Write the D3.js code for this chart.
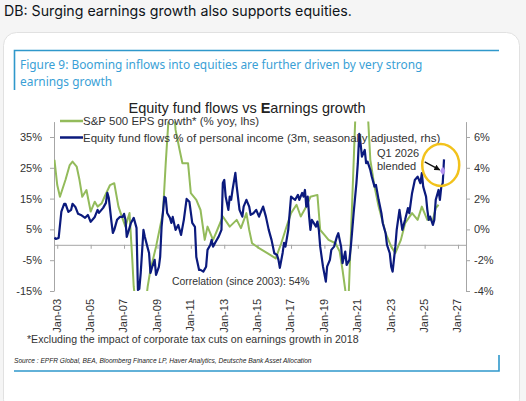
<!DOCTYPE html>
<html>
<head>
<meta charset="utf-8">
<script src="https://cdn.jsdelivr.net/npm/d3@7"></script>
<style>
  body { margin: 0; background: #f5f5f5; }
  svg { display: block; }
  .tick text { font-family: "Liberation Sans", Arial, sans-serif; font-size: 11px; fill: #333; }
</style>
</head>
<body>
<div id="chart"></div>
<script>
// equity fund flows, % of personal income (3m, SA, rhs)
const flowDates = ["2002-11","2002-12","2003-02","2003-04","2003-06","2003-07","2003-09","2003-11","2003-12",
  "2004-02","2004-04","2004-06","2004-09","2004-11","2005-01","2005-04","2005-06","2005-07","2005-10","2005-12",
  "2006-01","2006-02","2006-04","2006-05","2006-06","2006-08","2006-10","2006-12","2007-01","2007-02","2007-03",
  "2007-05","2007-06","2007-08","2007-10","2007-11","2007-12","2008-01","2008-03","2008-04","2008-06","2008-07",
  "2008-08","2008-09","2008-11","2008-12","2009-02","2009-03","2009-04","2009-06","2009-07","2009-08","2009-10",
  "2009-11","2009-12","2010-02","2010-04","2010-06","2010-08","2010-10","2010-12","2011-02","2011-04","2011-05",
  "2011-07","2011-08","2011-10","2011-12","2012-01","2012-03","2012-04","2012-05","2012-07","2012-09","2012-11",
  "2012-12","2013-01","2013-02","2013-04","2013-05","2013-06","2013-07","2013-09","2013-10","2013-12","2014-02",
  "2014-03","2014-05","2014-07","2014-08","2014-10","2014-12","2015-02","2015-03","2015-05","2015-07","2015-09",
  "2015-11","2016-01","2016-03","2016-04","2016-05","2016-07","2016-08","2016-09","2016-11","2017-01","2017-02",
  "2017-04","2017-06","2017-07","2017-09","2017-10","2017-11","2017-12","2018-01","2018-02","2018-03","2018-04",
  "2018-07","2018-08","2018-09","2018-10","2018-12","2019-02","2019-03","2019-05","2019-06","2019-08","2019-10",
  "2019-11","2020-01","2020-02","2020-04","2020-05","2020-07","2020-08","2020-09","2020-10","2020-12","2021-01",
  "2021-02","2021-03","2021-04","2021-06","2021-07","2021-08","2021-10","2021-11","2022-01","2022-02","2022-04",
  "2022-06","2022-07","2022-09","2022-10","2022-12","2023-01","2023-02","2023-03","2023-04","2023-05","2023-07",
  "2023-08","2023-09","2023-11","2024-01","2024-02","2024-04","2024-06","2024-08","2024-10","2024-11","2024-12",
  "2025-02","2025-03","2025-04","2025-05","2025-07","2025-08","2025-09","2025-11","2025-12","2026-01","2026-02",
  "2026-03"];
const flowValues = [-0.53,-0.62,-0.55,1.16,1.66,1.66,1.14,1.27,1.66,
  1.46,1.01,0.94,0.75,0.94,0.49,0.81,1.27,1.07,1.40,1.72,
  2.37,2.05,0.49,-0.23,-0.03,0.62,0.81,0.81,1.01,0.62,-0.49,
  0.10,0.42,0.75,0.10,-3.93,-3.86,-2.82,-0.03,-0.49,-1.20,-1.53,
  -2.82,-2.50,-1.98,-2.95,-2.44,-1.79,0.16,2.11,2.05,1.07,0.75,
  0.42,0.81,-0.03,0.29,-0.36,0.62,1.98,1.79,0.42,0.16,-1.79,
  -2.63,-2.63,-2.74,-2.42,-1.33,-1.01,-0.68,-1.12,-0.79,-0.47,-0.03,
  3.02,3.21,2.13,1.27,2.13,1.92,2.56,3.67,2.78,1.27,0.83,
  1.48,1.92,1.48,0.94,1.05,1.27,0.83,1.05,1.48,0.83,-0.03,
  -0.68,-1.55,-1.66,-1.98,-2.50,-1.53,-0.88,-1.12,-0.03,2.13,2.05,
  1.92,2.24,1.92,2.37,2.13,2.56,1.48,2.13,0.83,-0.03,0.62,
  0.18,0.51,-0.03,-1.12,-2.42,-3.39,-2.42,-1.98,-1.33,-1.12,-0.47,
  -0.25,-1.12,-2.19,-1.44,-2.31,-1.98,-1.12,-0.03,1.05,3.00,4.30,
  6.20,5.60,4.73,5.16,4.30,4.40,3.86,3.43,2.78,2.89,1.92,
  1.05,0.40,-0.25,-1.01,-1.55,-2.42,-2.74,-1.98,-1.12,-0.03,1.27,
  0.62,-0.03,0.62,1.38,1.05,2.35,3.21,3.43,3.00,3.65,2.78,
  2.13,1.27,0.62,0.83,0.29,0.62,1.92,2.56,1.92,2.78,3.00,
  4.55];

// S&P 500 EPS growth, % yoy (lhs)
const epsDates = ["2002-11","2003-01","2003-03","2003-07","2003-10","2003-12","2004-03","2004-05","2004-07","2004-10",
  "2005-01","2005-04","2005-06","2005-09","2005-11","2006-03","2006-06","2006-09","2006-11","2007-02","2007-05",
  "2007-07","2007-08","2008-01","2008-06","2008-08","2008-12","2009-05","2009-07","2009-11","2010-02","2010-05",
  "2010-07","2010-11","2011-01","2011-05","2011-08","2011-11","2012-01","2012-05","2012-08","2012-12","2013-05",
  "2013-10","2014-01","2014-05","2014-07","2014-09","2015-02","2015-08","2016-02","2016-06","2016-09","2017-01",
  "2017-05","2017-08","2017-12","2018-03","2018-08","2018-10","2019-01","2019-04","2019-09","2019-12","2020-02",
  "2020-04","2020-06","2021-03","2021-10","2022-01","2022-04","2022-09","2023-01","2023-04","2023-08","2023-11",
  "2024-04","2024-08","2024-11","2025-03","2025-07","2025-09","2025-11"];
const epsValues = [27.6,19.4,15.6,21.1,25.9,27.0,25.4,21.1,15.6,17.8,
  10.8,14.0,12.4,13.5,15.6,19.4,20.0,12.4,9.7,5.9,10.3,
  -4.9,-13.6,-33,-13.6,-8.1,-0.6,10.3,26.5,55.2,37.3,30.8,
  26.5,26.5,16.8,14.6,11.3,1.6,5.9,1.6,4.8,9.2,5.9,
  8.1,5.4,10.3,4.8,0.5,-1.1,-2.7,-4.4,0.5,4.8,10.3,
  13.0,9.2,12.4,15.6,16.2,4.8,3.2,1.6,0.5,-2.2,-8.1,
  -14.6,-22.0,86.8,27.6,18.9,12.4,3.8,-0.6,-2.7,1.6,7.0,
  10.3,8.1,12.4,8.1,8.1,11.9,13.0];

const blendedDate = "2026-02";
const blendedValue = 24;

const leftTicks = [35, 25, 15, 5, -5, -15];
const rightTicks = [6, 4, 2, 0, -2, -4];
const yearTicks = [2003, 2005, 2007, 2009, 2011, 2013, 2015, 2017, 2019, 2021, 2023, 2025, 2027];

const parseMonth = d3.timeParse("%Y-%m");
const flows = flowDates.map((d, i) => ({ date: parseMonth(d), value: flowValues[i] }));
const eps = epsDates.map((d, i) => ({ date: parseMonth(d), value: epsValues[i] }));

const width = 526, height = 401;
const svg = d3.select("#chart").append("svg")
    .attr("width", width)
    .attr("height", height);

// tweet text + card
svg.append("text")
    .attr("x", 4).attr("y", 16)
    .attr("font-family", "Inter, 'Noto Sans', sans-serif")
    .attr("font-size", 14.2)
    .attr("fill", "#0f1419")
    .text("DB: Surging earnings growth also supports equities.");

svg.append("rect")
    .attr("x", 3.5).attr("y", 32.5)
    .attr("width", 516).attr("height", 380)
    .attr("rx", 13)
    .attr("fill", "#fff")
    .attr("stroke", "#e1e1e1");

const blue = "#2f98cb";
svg.append("path")
    .attr("d", "M14.5,90 V50.5 H499")
    .attr("fill", "none").attr("stroke", blue).attr("stroke-width", 1.6);
svg.append("path")
    .attr("d", "M14,371 H499 V355")
    .attr("fill", "none").attr("stroke", blue).attr("stroke-width", 1.6);

const figTitle = svg.append("text")
    .attr("font-family", "'Noto Sans', sans-serif")
    .attr("font-size", 11.9)
    .attr("fill", "#3a9fd6");
figTitle.append("tspan").attr("x", 20).attr("y", 69)
    .text("Figure 9: Booming inflows into equities are further driven by very strong");
figTitle.append("tspan").attr("x", 20).attr("y", 86)
    .text("earnings growth");

// chart
const x = d3.scaleTime()
    .domain([new Date(2002, 9, 22), new Date(2027, 5, 25)])
    .range([54, 466]);
const yL = d3.scaleLinear().domain([-15, 40]).range([291, 121.6]);
const yR = d3.scaleLinear().domain([-4, 7]).range([291, 121.6]);

const font = "'Liberation Sans', Arial, sans-serif";

const chartTitle = svg.append("text")
    .attr("x", 247).attr("y", 113)
    .attr("text-anchor", "middle")
    .attr("font-family", font)
    .attr("font-size", 14.5)
    .attr("fill", "#222");
chartTitle.append("tspan").text("Equity fund flows vs ");
chartTitle.append("tspan").attr("font-weight", "bold").text("E");
chartTitle.append("tspan").text("arnings growth");

const leftAxis = svg.append("g")
    .attr("transform", `translate(${x.range()[0]},0)`)
    .call(d3.axisLeft(yL).tickValues(leftTicks).tickFormat(d => d + "%").tickSize(4).tickPadding(8).tickSizeOuter(0));
const rightAxis = svg.append("g")
    .attr("transform", `translate(${x.range()[1]},0)`)
    .call(d3.axisRight(yR).tickValues(rightTicks).tickFormat(d => d + "%").tickSize(4).tickPadding(4).tickSizeOuter(0));
[leftAxis, rightAxis].forEach(a => {
    a.select(".domain").attr("stroke", "#a6a6a6");
    a.selectAll(".tick line").attr("stroke", "#a6a6a6");
});

// x axis line sits at 0% (lhs)
const xAxis = svg.append("g")
    .attr("transform", `translate(0,${yL(0)})`)
    .call(d3.axisBottom(x).tickValues(yearTicks.map(y => new Date(y, 0, 1))).tickSize(4).tickFormat("").tickSizeOuter(0));
xAxis.select(".domain").attr("stroke", "#a6a6a6");
xAxis.selectAll(".tick line").attr("stroke", "#a6a6a6");

const xLabels = svg.append("g")
    .attr("transform", `translate(0,${yL.range()[0]})`)
    .call(d3.axisBottom(x).tickValues(yearTicks.map(y => new Date(y, 0, 1))).tickSize(0).tickFormat(d3.timeFormat("Jan-%y")));
xLabels.select(".domain").remove();
xLabels.selectAll(".tick text")
    .attr("transform", "rotate(-90)")
    .attr("text-anchor", "end")
    .attr("x", -8)
    .attr("y", -1)
    .attr("dy", "0.35em");

svg.append("clipPath").attr("id", "plot")
    .append("rect")
    .attr("x", 54).attr("y", yL.range()[1])
    .attr("width", 412).attr("height", yL.range()[0] - yL.range()[1]);

const green = "#93bb5b";
const navy = "#0b1a7d";

svg.append("path")
    .datum(eps)
    .attr("clip-path", "url(#plot)")
    .attr("fill", "none")
    .attr("stroke", green)
    .attr("stroke-width", 2)
    .attr("stroke-linejoin", "round")
    .attr("d", d3.line().x(d => x(d.date)).y(d => yL(d.value)));

svg.append("path")
    .datum(flows)
    .attr("clip-path", "url(#plot)")
    .attr("fill", "none")
    .attr("stroke", navy)
    .attr("stroke-width", 2.2)
    .attr("stroke-linejoin", "round")
    .attr("d", d3.line().x(d => x(d.date)).y(d => yR(d.value)));

// legend
const legend = [
    { label: "S&P 500 EPS growth* (% yoy, lhs)", color: green, y: 121 },
    { label: "Equity fund flows % of personal income (3m, seasonally adjusted, rhs)", color: navy, y: 137.5 }
];
legend.forEach(l => {
    svg.append("line")
        .attr("x1", 60).attr("x2", 83).attr("y1", l.y).attr("y2", l.y)
        .attr("stroke", l.color).attr("stroke-width", 2.5);
    svg.append("text")
        .attr("x", 83).attr("y", l.y + 4)
        .attr("font-family", font).attr("font-size", 11.5).attr("fill", "#333")
        .text(l.label);
});

// Q1 2026 blended
const bx = x(parseMonth(blendedDate)), by = yL(blendedValue);
svg.append("text")
    .attr("font-family", font).attr("font-size", 11).attr("fill", "#333")
    .selectAll("tspan")
    .data(["Q1 2026", "blended"])
    .join("tspan")
    .attr("x", 377)
    .attr("y", (d, i) => 157 + i * 13)
    .text(d => d);

svg.append("defs").append("marker")
    .attr("id", "arrow").attr("viewBox", "0 0 10 10")
    .attr("refX", 9).attr("refY", 5)
    .attr("markerWidth", 5).attr("markerHeight", 5)
    .attr("orient", "auto")
    .append("path").attr("d", "M0,0 L10,5 L0,10 z").attr("fill", "#111");
svg.append("line")
    .attr("x1", bx - 18).attr("y1", by - 9)
    .attr("x2", bx - 3).attr("y2", by - 1)
    .attr("stroke", "#111").attr("stroke-width", 1.2)
    .attr("marker-end", "url(#arrow)");

svg.append("path")
    .attr("transform", `translate(${bx},${by})`)
    .attr("d", d3.symbol(d3.symbolDiamond, 24))
    .attr("fill", "#b394f2");

svg.append("ellipse")
    .attr("cx", bx - 2).attr("cy", by - 6)
    .attr("rx", 18.5).attr("ry", 21)
    .attr("fill", "none")
    .attr("stroke", "#f2c21b")
    .attr("stroke-width", 2.5);

svg.append("text")
    .attr("x", 172).attr("y", 285)
    .attr("font-family", font).attr("font-size", 10.4).attr("fill", "#333")
    .text("Correlation (since 2003): 54%");

svg.append("text")
    .attr("x", 27).attr("y", 343)
    .attr("font-family", font).attr("font-size", 10.6).attr("fill", "#333")
    .text("*Excluding the impact of corporate tax cuts on earnings growth in 2018");

svg.append("text")
    .attr("x", 14).attr("y", 363)
    .attr("font-family", font).attr("font-size", 6.6).attr("font-style", "italic").attr("fill", "#222")
    .text("Source : EPFR Global, BEA, Bloomberg Finance LP, Haver Analytics, Deutsche Bank Asset Allocation");
</script>
</body>
</html>
